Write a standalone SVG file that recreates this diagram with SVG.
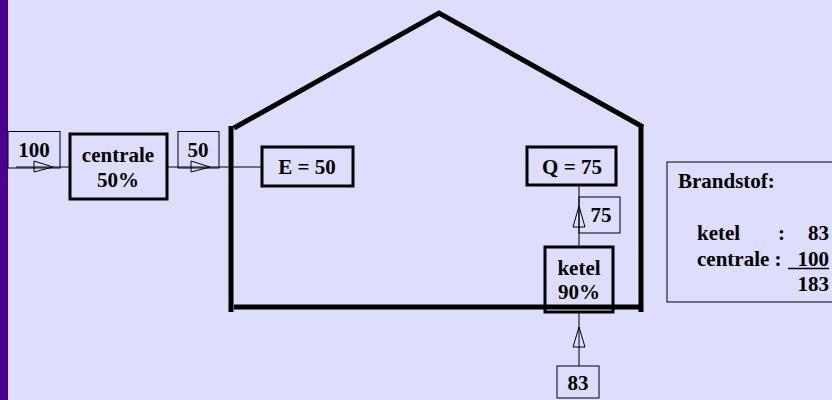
<svg xmlns="http://www.w3.org/2000/svg" width="832" height="400" viewBox="0 0 832 400">
<style>
  text { font-family: "Liberation Serif", "Times New Roman", serif; font-weight: bold; font-size: 21px; fill: #000; }
  .mid { text-anchor: middle; }
  .end { text-anchor: end; }
  .thick { fill: none; stroke: #000; stroke-width: 3; }
  .thin { fill: none; stroke: #000; stroke-width: 1; }
  .wall { fill: none; stroke: #000; stroke-width: 5; }
  .conn { fill: none; stroke: #000; stroke-width: 1; }
  .arrow { fill: none; stroke: #000; stroke-width: 1; }
</style>
<rect x="0" y="0" width="832" height="400" fill="#DDDDFC"/>
<rect x="0" y="0" width="8" height="400" fill="#4B0092"/>

<g id="house">
  <polyline class="wall" points="234,128 439,13 643,127"/>
  <line class="wall" x1="231" y1="126" x2="231" y2="312"/>
  <line class="wall" x1="641" y1="126" x2="641" y2="312"/>
  <line class="wall" x1="234" y1="307" x2="643" y2="307"/>
</g>

<g id="connectors">
  <line class="conn" x1="16" y1="167" x2="70" y2="167"/>
  <line class="conn" x1="167" y1="167" x2="262" y2="167"/>
  <line class="conn" x1="579" y1="186" x2="579" y2="247"/>
  <line class="conn" x1="579" y1="312" x2="579" y2="366"/>
  <polygon class="arrow" points="34,161 53,167 34,172"/>
  <polygon class="arrow" points="191,161 210,167 191,172"/>
  <polygon class="arrow" points="579,206 585,227 573,227"/>
  <polygon class="arrow" points="579,327 585,347 573,347"/>
</g>

<g id="in100">
  <rect class="thin" x="8" y="131.5" width="52" height="36.5"/>
  <text class="mid" x="34" y="157">100</text>
</g>

<g id="centrale">
  <rect class="thick" x="70" y="134" width="97" height="65"/>
  <text class="mid" x="118" y="162">centrale</text>
  <text class="mid" x="118" y="187">50%</text>
</g>

<g id="out50">
  <rect class="thin" x="178" y="131.5" width="41" height="36.5"/>
  <text class="mid" x="198" y="157">50</text>
</g>

<g id="E">
  <rect class="thick" x="262" y="147" width="91" height="39"/>
  <text class="mid" x="307" y="174">E = 50</text>
</g>

<g id="Q">
  <rect class="thick" x="527" y="147" width="89" height="38"/>
  <text class="mid" x="572" y="174">Q = 75</text>
</g>

<g id="flow75">
  <rect class="thin" x="579" y="197" width="41" height="36"/>
  <text class="mid" x="601" y="222">75</text>
</g>

<g id="ketel">
  <rect class="thick" x="545" y="247" width="68" height="65"/>
  <text class="mid" x="579" y="275">ketel</text>
  <text class="mid" x="579" y="299">90%</text>
</g>

<g id="in83">
  <rect class="thin" x="557" y="366" width="42" height="32"/>
  <text class="mid" x="578" y="390">83</text>
</g>

<g id="brandstof">
  <rect class="thin" x="667" y="162" width="170" height="140"/>
  <text x="678" y="188">Brandstof:</text>
  <text x="697" y="240">ketel</text>
  <text x="778" y="240">:</text>
  <text class="end" x="829" y="240">83</text>
  <text x="697" y="266">centrale :</text>
  <text class="end" x="829" y="266">100</text>
  <line x1="788" y1="268.5" x2="829" y2="268.5" stroke="#000" stroke-width="1.5"/>
  <text class="end" x="829" y="291">183</text>
</g>
</svg>
